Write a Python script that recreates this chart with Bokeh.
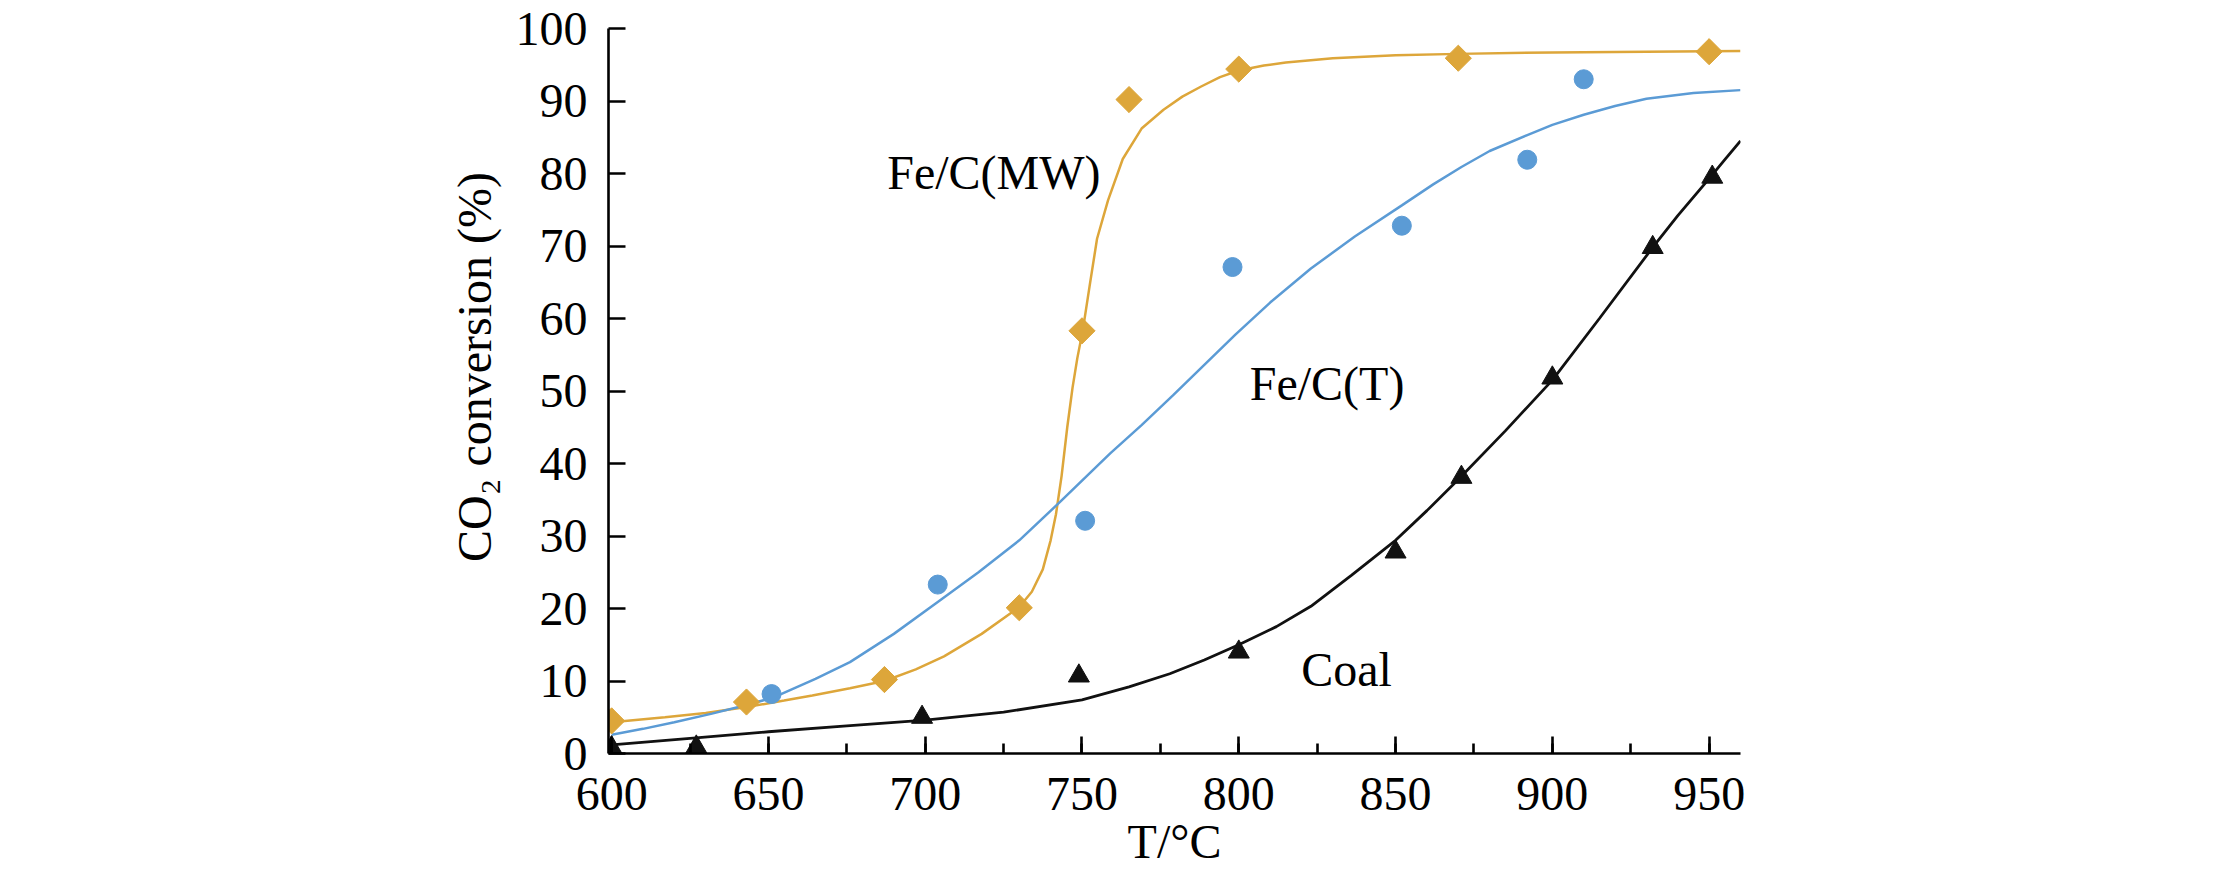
from bokeh.plotting import figure
from bokeh.models import Range1d, SingleIntervalTicker, Label
from bokeh.embed import file_html
from bokeh.resources import INLINE
import math

# ---- data ----
mw_t = [600, 643, 687, 730, 750, 765, 800, 870, 950]
mw_y = [4.5, 7.1, 10.2, 20.1, 58.3, 90.2, 94.4, 95.9, 96.8]

tt_t = [651, 704, 751, 798, 852, 892, 910]
tt_y = [8.2, 23.3, 32.1, 67.1, 72.8, 81.9, 93.0]

coal_t = [600, 627, 699, 749, 800, 850, 871, 900, 932, 951]
coal_y = [0.8, 0.9, 5.0, 10.7, 14.0, 27.8, 38.1, 51.8, 69.8, 79.5]

# fitted curves
mw_fit_t = [600, 617, 630, 643, 655, 664, 676, 687, 697, 706, 718, 730, 734, 737.5, 740, 741.7,
            743.5, 745.3, 747, 748.5, 750.3, 752.4, 754.8, 758.3, 763, 769, 776, 782, 788, 794,
            800, 808, 815, 830, 850, 870, 900, 930, 960]
mw_fit_y = [4.3, 5.0, 5.6, 6.4, 7.3, 8.0, 9.0, 10.0, 11.6, 13.4, 16.5, 20.2, 22.3, 25.4, 29.4, 33.0,
            38.3, 45.0, 50.5, 54.5, 58.5, 64.4, 71.0, 76.3, 82.0, 86.2, 88.8, 90.6, 92.0, 93.3,
            94.2, 94.9, 95.3, 95.9, 96.3, 96.5, 96.7, 96.8, 96.9]

tt_fit_t = [600, 610, 620, 632, 643, 651.5, 665, 676, 690, 704, 717, 730, 743, 759, 769, 779,
            789, 799, 810, 823, 837, 852, 862, 871, 880, 892, 900, 910, 920, 930, 945, 960]
tt_fit_y = [2.6, 3.4, 4.3, 5.5, 6.7, 7.7, 10.3, 12.6, 16.5, 20.9, 25.0, 29.4, 34.7, 41.4, 45.3,
            49.4, 53.6, 57.8, 62.2, 66.9, 71.3, 75.6, 78.5, 80.9, 83.1, 85.3, 86.7, 88.1, 89.3,
            90.3, 91.1, 91.5]

coal_fit_t = [600, 625, 650, 675, 700, 725, 750, 765, 778, 789, 800, 812, 823, 836, 850, 860,
              870, 885, 900, 915, 932, 940, 950, 955, 960]
coal_fit_y = [1.2, 2.1, 3.0, 3.8, 4.6, 5.7, 7.4, 9.2, 11.0, 12.9, 15.0, 17.5, 20.3, 24.6, 29.4,
              33.5, 37.8, 44.5, 51.5, 60.0, 69.8, 74.2, 79.3, 81.9, 84.5]

x_ticks_step = 50
y_ticks_step = 10

ORANGE = "#DDA63A"
BLUE = "#5B9BD5"
BLACK = "#111111"
FONT = "Liberation Serif"
NBSP = "\u00a0"

p = figure(width=2197, height=870, output_backend="svg", toolbar_location=None,
           x_range=Range1d(599, 960), y_range=Range1d(0, 100),
           min_border_left=608, min_border_right=457, min_border_top=28, min_border_bottom=115)
p.outline_line_color = None
p.xgrid.visible = False
p.ygrid.visible = False
p.background_fill_color = "white"
p.border_fill_color = "white"

# curves
p.line(mw_fit_t, mw_fit_y, line_color=ORANGE, line_width=2.5)
p.line(tt_fit_t, tt_fit_y, line_color=BLUE, line_width=2.5)
p.line(coal_fit_t, coal_fit_y, line_color=BLACK, line_width=2.8)

# markers
p.scatter(mw_t, mw_y, marker="square", size=18.5, angle=math.pi / 4,
          fill_color=ORANGE, line_color=ORANGE, line_width=1)
p.scatter(tt_t, tt_y, marker="circle", size=19, fill_color=BLUE, line_color=BLUE)
p.scatter(coal_t, coal_y, marker="triangle", size=21, fill_color=BLACK, line_color=BLACK)

# axes
for ax in (p.xaxis[0], p.yaxis[0]):
    ax.axis_line_width = 2.6
    ax.axis_line_color = "black"
    ax.major_tick_line_width = 2.6
    ax.major_tick_line_color = "black"
    ax.minor_tick_line_width = 2.6
    ax.minor_tick_line_color = "black"
    ax.major_tick_in = 17
    ax.major_tick_out = 0
    ax.minor_tick_in = 10
    ax.minor_tick_out = 0
    ax.major_label_text_font = FONT
    ax.major_label_text_font_size = "48px"
    ax.major_label_text_color = "black"
    ax.axis_label_text_font = FONT
    ax.axis_label_text_font_size = "48px"
    ax.axis_label_text_font_style = "normal"
    ax.axis_label_text_color = "black"

p.xaxis.ticker = SingleIntervalTicker(interval=x_ticks_step, num_minor_ticks=2)
p.yaxis.ticker = SingleIntervalTicker(interval=y_ticks_step, num_minor_ticks=0)
p.xaxis.major_label_standoff = 24
p.yaxis.major_label_standoff = 21
p.yaxis.axis_label = NBSP * 4 + "CO₂ conversion (%)"
p.yaxis.axis_label_standoff = 12
p.xaxis.axis_label = "T/°C"
p.xaxis.axis_label_standoff = 2

# series labels
for tx, ty, s in [(687.9, 80.2, "Fe/C(MW)"), (803.5, 51.0, "Fe/C(T)"), (819.9, 11.6, "Coal")]:
    p.add_layout(Label(x=tx, y=ty, text=s, text_align="left", text_baseline="alphabetic",
                       text_font=FONT, text_font_size="48px", text_color="black"))

open("out.html", "w").write(file_html(p, INLINE))
